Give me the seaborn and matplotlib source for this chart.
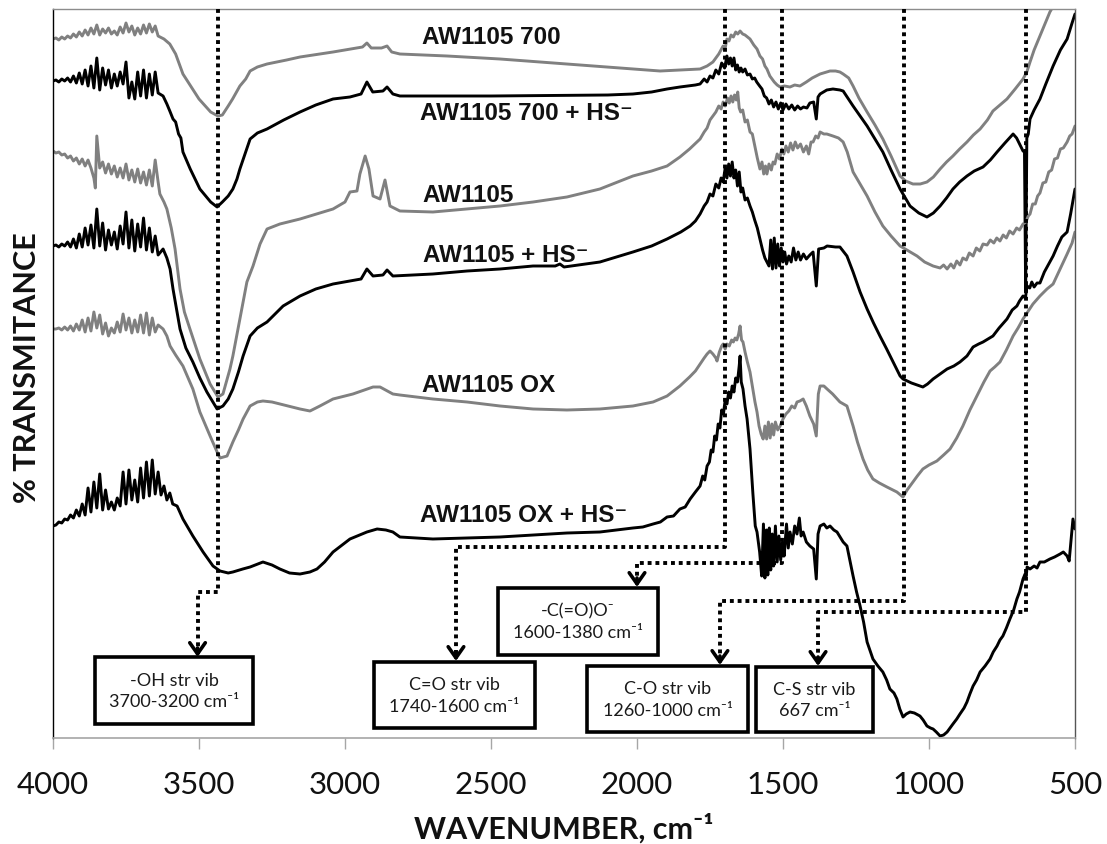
import matplotlib
matplotlib.use("Agg")
import matplotlib.pyplot as plt
import seaborn as sns
import pandas as pd
from matplotlib.patches import Rectangle

# ---------------- data (wavenumber cm-1, transmittance in arbitrary offset units) ----------------
AW1105_700 = [
    (4000, 69.9), (3990, 70.0), (3980, 69.8), (3970, 70.1), (3960, 69.9), (3950, 70.2), (3940, 70.0),
    (3930, 70.4), (3920, 70.1), (3910, 70.6), (3900, 70.2), (3890, 70.8), (3880, 70.3), (3870, 71.0),
    (3860, 70.4), (3850, 71.3), (3840, 70.3), (3830, 70.9), (3820, 70.5), (3810, 71.0), (3800, 70.4),
    (3790, 70.7), (3780, 70.3), (3770, 71.1), (3760, 70.5), (3750, 71.5), (3740, 70.6), (3730, 71.2),
    (3720, 70.3), (3710, 71.0), (3700, 70.4), (3690, 71.3), (3680, 70.5), (3670, 71.4), (3660, 70.6),
    (3650, 71.2), (3640, 70.2), (3620, 69.9), (3600, 69.4), (3580, 68.4), (3555, 66.4), (3500, 63.9),
    (3460, 62.6), (3435, 62.2), (3420, 62.3), (3400, 63.2), (3385, 63.9), (3360, 65.2), (3340, 65.9),
    (3325, 66.7), (3300, 67.1), (3267, 67.4), (3200, 67.8), (3154, 68.1), (3041, 68.6), (2960, 69.0),
    (2940, 69.1), (2925, 69.5), (2910, 69.0), (2875, 69.0), (2856, 69.2), (2840, 68.6), (2812, 68.4),
    (2650, 68.2), (2469, 67.9), (2240, 67.4), (2014, 66.9), (1921, 66.7), (1853, 66.8), (1784, 66.9),
    (1760, 67.2), (1740, 67.6), (1720, 68.4), (1705, 69.2), (1698, 69.0), (1692, 69.9), (1685, 69.7),
    (1678, 70.3), (1670, 70.1), (1662, 70.6), (1655, 70.4), (1647, 70.7), (1638, 70.4), (1630, 70.3),
    (1613, 69.9), (1600, 69.3), (1589, 68.9), (1579, 68.2), (1570, 67.9), (1562, 67.2), (1555, 66.9),
    (1545, 66.2), (1530, 65.6), (1520, 65.3), (1510, 65.1), (1495, 65.2), (1476, 65.1), (1460, 65.3),
    (1442, 65.2), (1420, 65.6), (1400, 66.0), (1373, 66.4), (1339, 66.7), (1320, 66.7), (1305, 66.6),
    (1294, 66.4), (1275, 66.0), (1260, 65.2), (1240, 64.0), (1212, 62.6), (1185, 61.3), (1158, 59.9),
    (1130, 58.2), (1099, 56.2), (1080, 55.7), (1055, 55.4), (1030, 55.4), (1007, 55.6), (985, 56.1),
    (962, 56.9), (940, 57.6), (918, 58.2), (895, 58.9), (870, 59.6), (848, 60.3), (825, 60.9),
    (800, 61.8), (781, 62.7), (757, 63.3), (733, 63.9), (705, 64.9), (678, 65.9), (665, 66.6),
    (654, 67.6), (640, 68.8), (620, 70.2), (600, 71.6), (586, 72.6), (570, 73.4),
]

AW1105_700_HS = [
    (4000, 65.7), (3990, 65.8), (3980, 65.6), (3970, 65.9), (3960, 65.7), (3950, 66.0), (3940, 65.6),
    (3930, 66.2), (3920, 65.5), (3910, 66.5), (3900, 65.4), (3890, 66.8), (3880, 65.2), (3870, 67.2),
    (3860, 65.0), (3850, 68.0), (3840, 64.8), (3830, 67.0), (3820, 65.3), (3810, 66.8), (3800, 65.0),
    (3790, 66.4), (3780, 65.2), (3770, 66.6), (3760, 65.4), (3750, 67.6), (3740, 64.0), (3730, 65.6),
    (3720, 63.9), (3710, 66.6), (3700, 64.2), (3690, 66.8), (3680, 64.0), (3670, 66.4), (3660, 64.3),
    (3650, 66.6), (3640, 64.5), (3623, 64.2), (3610, 63.4), (3600, 62.7), (3589, 61.9), (3580, 61.6),
    (3570, 60.4), (3562, 60.0), (3555, 58.6), (3530, 56.9), (3497, 54.9), (3460, 53.6), (3438, 53.1),
    (3420, 53.6), (3400, 54.2), (3384, 54.9), (3370, 55.9), (3360, 56.9), (3340, 58.6), (3325, 59.9),
    (3300, 60.5), (3267, 60.9), (3210, 61.8), (3154, 62.6), (3100, 63.3), (3041, 63.9), (2983, 64.1),
    (2945, 64.4), (2925, 65.6), (2905, 64.6), (2870, 64.7), (2856, 65.1), (2836, 64.4), (2812, 64.2),
    (2500, 64.2), (2100, 64.3), (2014, 64.4), (1950, 64.6), (1897, 64.9), (1853, 65.1), (1800, 65.3),
    (1784, 65.4), (1770, 65.9), (1760, 65.6), (1750, 66.2), (1740, 66.0), (1730, 66.8), (1720, 66.4),
    (1710, 67.5), (1700, 67.0), (1692, 68.2), (1686, 67.4), (1680, 68.0), (1674, 67.2), (1668, 68.0),
    (1662, 66.8), (1656, 67.3), (1650, 66.6), (1644, 67.0), (1638, 66.6), (1630, 66.9), (1622, 66.3),
    (1613, 66.4), (1605, 65.9), (1597, 66.0), (1590, 65.6), (1580, 65.2), (1572, 64.9), (1564, 64.2),
    (1556, 64.0), (1548, 63.4), (1540, 63.8), (1532, 63.1), (1524, 63.6), (1516, 62.9), (1508, 63.5),
    (1500, 62.8), (1490, 63.4), (1480, 62.9), (1470, 63.3), (1460, 62.8), (1450, 63.2), (1440, 62.9),
    (1430, 63.1), (1418, 63.0), (1408, 63.5), (1395, 63.6), (1386, 61.9), (1380, 64.1), (1373, 64.4),
    (1350, 64.8), (1329, 64.9), (1305, 64.8), (1294, 64.7), (1260, 63.2), (1236, 62.2), (1212, 61.2),
    (1185, 59.9), (1158, 58.6), (1130, 56.8), (1099, 54.9), (1065, 53.2), (1035, 52.5), (1007, 52.1),
    (985, 52.5), (962, 53.2), (940, 54.0), (918, 54.9), (895, 55.6), (870, 56.2), (845, 56.7),
    (815, 57.1), (790, 57.8), (767, 58.6), (740, 59.5), (712, 60.4), (700, 60.0), (690, 59.4),
    (678, 58.7), (673, 58.6), (669, 44.6), (665, 60.0), (660, 60.4), (654, 61.9), (640, 62.8),
    (620, 63.9), (600, 65.4), (575, 67.2), (550, 68.8), (527, 69.9), (510, 71.5), (500, 72.4),
]

AW1105 = [
    (4000, 58.7), (3990, 58.5), (3980, 58.6), (3970, 58.3), (3960, 58.4), (3950, 58.0), (3940, 58.2),
    (3930, 57.7), (3920, 58.0), (3910, 57.4), (3900, 57.9), (3890, 57.2), (3880, 57.8), (3870, 57.0),
    (3860, 56.0), (3855, 55.0), (3850, 60.2), (3840, 57.0), (3830, 57.6), (3820, 56.5), (3810, 57.4),
    (3800, 56.4), (3790, 57.2), (3780, 56.1), (3770, 57.0), (3760, 56.0), (3750, 57.4), (3740, 55.8),
    (3730, 56.8), (3720, 55.6), (3710, 56.9), (3700, 55.5), (3690, 56.6), (3680, 55.3), (3670, 56.8),
    (3660, 55.2), (3650, 57.8), (3640, 55.6), (3634, 54.4), (3620, 53.6), (3610, 52.9), (3595, 51.0),
    (3582, 48.9), (3565, 44.9), (3550, 42.6), (3531, 40.9), (3497, 37.9), (3462, 35.4), (3435, 34.1),
    (3418, 34.4), (3394, 36.9), (3384, 38.2), (3360, 41.9), (3336, 45.6), (3315, 47.2), (3291, 49.4),
    (3267, 50.9), (3223, 51.4), (3154, 51.9), (3041, 52.9), (3000, 53.6), (2983, 54.6), (2959, 54.7),
    (2949, 56.4), (2931, 58.2), (2918, 56.9), (2904, 54.2), (2880, 53.9), (2863, 55.8), (2846, 53.2),
    (2812, 52.7), (2699, 52.6), (2582, 52.9), (2469, 53.2), (2356, 53.6), (2240, 54.1), (2127, 54.9),
    (2014, 56.2), (1950, 56.7), (1897, 57.2), (1853, 58.1), (1820, 58.9), (1784, 59.9), (1770, 60.6),
    (1760, 61.0), (1750, 61.8), (1740, 62.2), (1730, 62.6), (1720, 63.2), (1712, 62.9), (1705, 63.6),
    (1698, 63.2), (1690, 64.0), (1684, 63.5), (1678, 64.2), (1672, 63.6), (1666, 64.3), (1660, 63.8),
    (1655, 64.6), (1650, 63.0), (1645, 62.6), (1638, 62.8), (1630, 61.6), (1622, 61.8), (1613, 60.6),
    (1605, 60.4), (1596, 59.1), (1588, 58.0), (1579, 56.9), (1572, 57.6), (1566, 56.4), (1560, 57.2),
    (1555, 56.4), (1548, 57.4), (1540, 56.8), (1534, 57.6), (1528, 57.4), (1520, 58.4), (1512, 57.9),
    (1504, 58.9), (1497, 58.4), (1490, 59.2), (1482, 58.6), (1474, 59.5), (1466, 58.8), (1458, 59.6),
    (1450, 59.0), (1440, 59.4), (1430, 58.6), (1420, 59.2), (1412, 58.4), (1404, 59.6), (1397, 59.6),
    (1388, 60.2), (1380, 60.0), (1373, 60.6), (1360, 60.4), (1350, 60.4), (1329, 60.2), (1310, 60.0),
    (1294, 59.6), (1280, 58.6), (1260, 56.6), (1236, 55.4), (1212, 54.2), (1185, 52.6), (1158, 51.2),
    (1130, 50.2), (1099, 49.2), (1070, 48.7), (1041, 48.2), (1015, 47.6), (986, 47.2), (962, 47.0),
    (950, 47.3), (938, 46.9), (925, 47.4), (915, 47.0), (905, 47.7), (894, 47.3), (884, 48.0),
    (872, 47.8), (862, 48.5), (849, 48.2), (838, 49.0), (826, 48.7), (815, 49.4), (801, 49.3),
    (790, 49.8), (778, 49.5), (768, 50.0), (757, 49.7), (746, 50.3), (735, 50.0), (724, 50.7),
    (712, 50.4), (700, 51.0), (690, 50.8), (678, 51.4), (668, 51.6), (660, 52.2), (654, 52.4),
    (645, 53.4), (636, 53.4), (628, 54.2), (620, 54.5), (610, 55.5), (600, 55.6), (590, 56.6),
    (580, 56.8), (570, 57.9), (560, 58.0), (550, 58.9), (540, 59.0), (527, 59.6), (518, 60.2),
    (510, 60.4), (500, 61.2),
]

AW1105_HS = [
    (4000, 49.2), (3990, 49.3), (3980, 49.1), (3970, 49.4), (3960, 49.2), (3950, 49.6), (3940, 49.1),
    (3930, 49.9), (3920, 49.0), (3910, 50.4), (3900, 49.1), (3890, 51.0), (3880, 49.3), (3870, 51.3),
    (3860, 49.0), (3850, 52.9), (3840, 49.2), (3830, 51.5), (3820, 48.8), (3810, 50.8), (3800, 49.3),
    (3790, 50.6), (3780, 48.9), (3770, 51.2), (3760, 49.4), (3750, 52.6), (3740, 49.0), (3730, 51.8),
    (3720, 48.7), (3710, 51.4), (3700, 49.1), (3690, 52.0), (3680, 48.8), (3670, 51.0), (3660, 48.6),
    (3650, 50.2), (3640, 48.3), (3623, 48.9), (3610, 48.0), (3599, 46.9), (3589, 44.9), (3565, 40.9),
    (3545, 39.0), (3521, 37.6), (3497, 36.0), (3473, 34.6), (3438, 32.9), (3418, 33.2), (3400, 33.9),
    (3384, 34.9), (3365, 36.6), (3349, 38.2), (3325, 40.2), (3300, 41.0), (3267, 41.6), (3212, 43.2),
    (3154, 44.2), (3100, 44.9), (3041, 45.4), (2983, 45.7), (2945, 45.9), (2925, 46.9), (2904, 46.2),
    (2870, 46.3), (2856, 46.8), (2836, 46.2), (2699, 46.4), (2582, 46.7), (2469, 46.9), (2356, 47.2),
    (2280, 47.2), (2264, 47.4), (2250, 47.1), (2127, 47.6), (2014, 48.6), (1950, 49.2), (1897, 49.9),
    (1850, 50.6), (1818, 51.2), (1800, 51.7), (1784, 52.4), (1770, 53.2), (1760, 53.6), (1750, 54.4),
    (1740, 54.2), (1730, 55.4), (1720, 55.0), (1712, 56.0), (1705, 55.6), (1698, 57.0), (1692, 56.0),
    (1686, 57.4), (1680, 56.2), (1674, 57.6), (1668, 56.0), (1662, 56.8), (1656, 55.2), (1650, 56.6),
    (1644, 54.6), (1638, 55.0), (1630, 53.8), (1622, 54.0), (1613, 53.2), (1605, 52.6), (1597, 51.8),
    (1588, 51.0), (1579, 49.9), (1570, 48.8), (1562, 48.0), (1555, 47.6), (1548, 47.2), (1542, 49.8),
    (1536, 46.9), (1530, 50.0), (1524, 47.0), (1518, 49.4), (1512, 47.2), (1506, 49.0), (1500, 47.6),
    (1494, 48.6), (1488, 47.4), (1480, 48.2), (1472, 47.6), (1464, 49.0), (1456, 47.8), (1448, 48.6),
    (1440, 47.8), (1430, 48.4), (1420, 47.9), (1408, 48.3), (1397, 48.6), (1386, 45.2), (1378, 48.9),
    (1360, 49.0), (1349, 49.2), (1320, 49.1), (1305, 49.1), (1281, 48.2), (1260, 46.6), (1236, 44.6),
    (1212, 42.9), (1190, 41.5), (1168, 40.2), (1145, 38.9), (1123, 37.6), (1099, 36.2), (1089, 35.9),
    (1060, 35.5), (1031, 35.2), (1021, 35.1), (1005, 35.4), (986, 35.9), (962, 36.4), (938, 36.9),
    (915, 37.2), (894, 37.6), (870, 38.2), (849, 39.1), (830, 39.4), (815, 39.6), (798, 39.9),
    (781, 40.2), (760, 41.0), (733, 41.9), (715, 42.8), (699, 43.2), (690, 43.7), (678, 44.2),
    (670, 44.0), (664, 45.2), (655, 45.0), (648, 45.6), (640, 45.1), (630, 45.5), (620, 45.5),
    (605, 46.6), (590, 47.4), (575, 48.2), (560, 49.2), (545, 50.1), (527, 50.6), (515, 52.4),
    (500, 54.9),
]

AW1105_OX = [
    (4000, 40.9), (3990, 40.9), (3980, 41.0), (3970, 40.8), (3960, 41.1), (3950, 40.8), (3940, 41.2),
    (3930, 40.7), (3920, 41.4), (3910, 40.8), (3900, 41.8), (3890, 40.6), (3880, 42.0), (3870, 40.7),
    (3860, 42.6), (3850, 41.0), (3840, 42.3), (3830, 40.4), (3820, 41.5), (3810, 40.2), (3800, 41.0),
    (3790, 40.5), (3780, 41.6), (3770, 40.6), (3760, 42.4), (3750, 40.8), (3740, 42.0), (3730, 40.5),
    (3720, 41.8), (3710, 40.6), (3700, 42.3), (3690, 40.5), (3680, 42.5), (3670, 40.3), (3660, 42.0),
    (3650, 40.6), (3640, 41.3), (3623, 40.9), (3610, 40.2), (3599, 39.2), (3580, 38.3), (3555, 37.2),
    (3521, 34.9), (3497, 32.6), (3462, 30.2), (3438, 28.6), (3428, 28.0), (3404, 28.2), (3384, 29.6),
    (3365, 30.8), (3349, 31.9), (3325, 33.2), (3300, 33.6), (3281, 33.7), (3250, 33.6), (3223, 33.4),
    (3154, 32.9), (3120, 32.7), (3086, 33.2), (3041, 33.9), (2973, 34.4), (2904, 35.1), (2880, 35.1),
    (2836, 34.4), (2812, 34.3), (2699, 33.9), (2582, 33.6), (2469, 33.2), (2356, 32.9), (2240, 32.8),
    (2127, 32.9), (2014, 33.2), (1945, 33.6), (1897, 34.2), (1853, 35.2), (1820, 36.1), (1800, 36.7),
    (1784, 37.4), (1770, 38.0), (1760, 38.4), (1750, 38.7), (1740, 38.4), (1730, 38.0), (1726, 37.7),
    (1718, 38.6), (1710, 39.2), (1705, 39.4), (1698, 38.9), (1692, 39.4), (1684, 39.2), (1676, 39.8),
    (1670, 39.6), (1664, 40.0), (1658, 39.8), (1652, 40.4), (1647, 41.2), (1642, 39.8), (1637, 39.6),
    (1630, 38.6), (1622, 37.6), (1613, 36.6), (1604, 35.0), (1596, 33.6), (1589, 32.6), (1582, 31.2),
    (1575, 30.4), (1568, 29.9), (1562, 31.2), (1556, 29.9), (1550, 31.6), (1544, 30.0), (1538, 31.4),
    (1532, 30.3), (1526, 31.6), (1518, 30.8), (1510, 31.2), (1500, 31.9), (1490, 32.4), (1480, 32.7),
    (1470, 33.2), (1460, 33.0), (1452, 33.6), (1442, 33.7), (1431, 33.9), (1420, 33.2), (1408, 32.2),
    (1395, 31.4), (1386, 30.2), (1379, 34.4), (1373, 35.2), (1360, 35.2), (1349, 34.9), (1330, 34.4),
    (1305, 33.6), (1281, 33.2), (1260, 31.2), (1245, 29.6), (1226, 27.9), (1210, 26.8), (1192, 25.9),
    (1170, 25.5), (1144, 25.1), (1110, 24.6), (1089, 24.1), (1075, 24.8), (1055, 25.6), (1040, 26.2),
    (1021, 26.9), (1000, 27.3), (973, 27.7), (950, 28.3), (928, 28.9), (905, 30.0), (884, 31.2),
    (860, 32.8), (836, 34.2), (812, 35.6), (791, 36.7), (775, 37.1), (757, 37.6), (735, 38.8),
    (712, 40.2), (695, 41.0), (678, 41.9), (660, 42.7), (644, 43.4), (620, 44.2), (596, 44.9),
    (575, 45.4), (551, 46.9), (527, 48.4), (510, 49.5), (500, 50.6),
]

AW1105_OX_HS = [
    (4000, 21.2), (3990, 21.3), (3980, 21.6), (3970, 21.5), (3960, 21.9), (3950, 21.8), (3940, 22.3),
    (3930, 22.0), (3920, 22.8), (3910, 22.2), (3900, 23.4), (3890, 22.3), (3880, 25.0), (3870, 22.6),
    (3860, 25.6), (3850, 23.0), (3840, 26.4), (3830, 22.8), (3820, 24.8), (3810, 22.9), (3800, 23.6),
    (3790, 22.8), (3780, 24.0), (3770, 23.2), (3760, 26.6), (3750, 23.4), (3740, 26.8), (3730, 23.8),
    (3720, 25.8), (3710, 23.6), (3700, 27.0), (3690, 24.0), (3680, 27.6), (3670, 24.2), (3660, 27.8),
    (3650, 24.4), (3640, 26.6), (3630, 24.3), (3620, 25.2), (3610, 23.8), (3600, 24.5), (3590, 23.4),
    (3575, 23.2), (3555, 21.9), (3521, 20.2), (3486, 18.6), (3452, 17.2), (3428, 16.7), (3400, 16.5),
    (3384, 16.6), (3350, 16.9), (3325, 17.1), (3281, 17.6), (3250, 17.3), (3223, 16.9), (3190, 16.5),
    (3154, 16.4), (3120, 16.6), (3096, 16.9), (3070, 17.6), (3041, 18.6), (3010, 19.3), (2983, 19.9),
    (2950, 20.3), (2925, 20.6), (2890, 20.9), (2860, 20.8), (2836, 20.6), (2812, 20.1), (2699, 19.9),
    (2582, 20.0), (2469, 20.1), (2356, 20.3), (2240, 20.5), (2127, 20.6), (2014, 21.0), (1980, 21.1),
    (1945, 21.4), (1920, 21.6), (1897, 22.1), (1875, 22.2), (1853, 22.9), (1835, 23.1), (1818, 23.9),
    (1800, 24.6), (1784, 25.2), (1775, 26.2), (1768, 25.8), (1760, 27.2), (1752, 27.6), (1746, 28.8),
    (1740, 28.6), (1734, 30.2), (1728, 29.8), (1722, 31.4), (1716, 31.0), (1710, 32.8), (1704, 32.4),
    (1698, 33.8), (1692, 33.4), (1686, 34.6), (1680, 34.0), (1674, 35.2), (1668, 34.6), (1662, 36.0),
    (1656, 35.6), (1650, 37.2), (1647, 38.2), (1643, 35.6), (1637, 34.9), (1630, 33.2), (1623, 31.9),
    (1613, 28.9), (1603, 24.4), (1595, 21.2), (1589, 20.6), (1580, 18.6), (1573, 16.2), (1567, 21.4),
    (1562, 16.0), (1557, 20.8), (1552, 16.3), (1547, 21.0), (1542, 16.8), (1537, 20.4), (1532, 17.2),
    (1526, 21.2), (1520, 17.6), (1514, 20.2), (1508, 17.8), (1502, 19.6), (1496, 18.2), (1488, 21.4),
    (1482, 19.0), (1476, 20.6), (1468, 19.4), (1460, 21.2), (1452, 20.4), (1444, 22.0), (1438, 20.2),
    (1431, 20.6), (1420, 19.6), (1408, 19.2), (1395, 18.9), (1386, 15.9), (1380, 20.4), (1373, 21.2),
    (1360, 21.4), (1350, 21.0), (1339, 21.2), (1326, 20.8), (1315, 20.6), (1294, 19.6), (1281, 19.2),
    (1260, 16.2), (1248, 14.6), (1236, 13.2), (1224, 11.6), (1212, 9.6), (1192, 7.9), (1175, 7.2),
    (1158, 6.6), (1145, 5.8), (1134, 4.9), (1120, 4.5), (1110, 3.9), (1100, 2.9), (1089, 2.1),
    (1078, 2.4), (1065, 2.6), (1050, 2.5), (1031, 2.2), (1020, 1.8), (1007, 1.2), (995, 1.0),
    (986, 0.9), (975, 0.6), (962, 0.2), (950, 0.3), (938, 0.6), (928, 1.0), (918, 1.4), (905, 1.9),
    (894, 2.4), (880, 3.0), (870, 3.6), (860, 4.4), (849, 5.2), (837, 5.8), (825, 6.6), (808, 7.2),
    (791, 7.9), (780, 8.6), (767, 9.2), (757, 9.8), (747, 10.2), (735, 11.0), (723, 11.9), (710, 12.8),
    (699, 13.9), (690, 14.6), (678, 15.9), (671, 16.4), (667, 16.2), (664, 17.1), (654, 16.9),
    (640, 17.2), (630, 17.0), (620, 17.6), (605, 17.6), (586, 17.9), (570, 18.1), (551, 18.4),
    (540, 18.6), (527, 18.2), (520, 17.7), (514, 19.6), (507, 21.9), (500, 20.9),
]

SERIES_NAMES = ["AW1105 700", "AW1105 700 + HS⁻", "AW1105", "AW1105 + HS⁻", "AW1105 OX", "AW1105 OX + HS⁻"]
SERIES_DATA = [AW1105_700, AW1105_700_HS, AW1105, AW1105_HS, AW1105_OX, AW1105_OX_HS]
SERIES_COLORS = ["#808080", "#000000", "#808080", "#000000", "#808080", "#000000"]
# label anchor (wavenumber, transmittance)
LABEL_POS = [(2736, 70.2), (2743, 62.6), (2736, 54.4), (2733, 48.4), (2736, 35.3), (2743, 22.4)]

X_TICKS = [4000, 3500, 3000, 2500, 2000, 1500, 1000, 500]

# band annotations: text, band line, elbow level, arrow position, arrow tip, box (left, right, bottom, top)
BANDS = [
    dict(text="-OH str vib\n3700-3200 cm⁻¹", band=3435, elbow=14.6, arrow=3505, tip=8.1,
         box=(3856, 3315, 1.4, 8.1)),
    dict(text="C=O str vib\n1740-1600 cm⁻¹", band=1700, elbow=19.1, arrow=2620, tip=7.7,
         box=(2901, 2349, 1.0, 7.6)),
    dict(text="-C(=O)O⁻\n1600-1380 cm⁻¹", band=1505, elbow=17.5, arrow=2000, tip=15.1,
         box=(2476, 1928, 8.3, 15.0)),
    dict(text="C-O str vib\n1260-1000 cm⁻¹", band=1085, elbow=13.7, arrow=1716, tip=7.3,
         box=(2171, 1620, 0.6, 7.2)),
    dict(text="C-S str vib\n667 cm⁻¹", band=667, elbow=12.6, arrow=1380, tip=7.2,
         box=(1592, 1192, 0.6, 7.1)),
]

# ---------------- drawing ----------------
sns.set_style("white")
plt.rcParams["font.family"] = ["Lato", "DejaVu Sans"]

W, H = 1107, 845
fig = plt.figure(figsize=(W / 100, H / 100), dpi=100)
ax = fig.add_axes([53 / W, 106 / H, 1022 / W, 729 / H])

YTOP = 72.9
for data, color in zip(SERIES_DATA, SERIES_COLORS):
    df = pd.DataFrame(data, columns=["wavenumber", "T"])
    sns.lineplot(data=df, x="wavenumber", y="T", ax=ax, color=color, linewidth=2.1,
                 estimator=None, errorbar=None, sort=False, zorder=2)

for name, (lx, ly) in zip(SERIES_NAMES, LABEL_POS):
    ax.text(lx, ly, name, ha="left", va="center", fontsize=17.5, fontweight="bold",
            family=["Liberation Sans", "DejaVu Sans"], color="#111111", zorder=6)

for b in BANDS:
    ax.plot([b["band"], b["band"], b["arrow"], b["arrow"]],
            [YTOP, b["elbow"], b["elbow"], b["tip"] + 0.3],
            color="black", lw=2.8, linestyle=(0, (1, 1)), dash_capstyle="butt",
            solid_capstyle="butt", zorder=3, clip_on=False)
    ax.annotate("", xy=(b["arrow"], b["tip"]), xytext=(b["arrow"], b["tip"] + 0.9),
                arrowprops=dict(arrowstyle="->,head_length=0.4,head_width=0.28", lw=2.6,
                                color="black", shrinkA=0, shrinkB=0, mutation_scale=20),
                zorder=4)
    l, r, bt, tp = b["box"]
    ax.add_patch(Rectangle((l, bt), r - l, tp - bt, facecolor="white", edgecolor="black",
                           lw=2.6, zorder=5))
    ax.text((l + r) / 2, (bt + tp) / 2, b["text"], ha="center", va="center", fontsize=13,
            linespacing=1.45, color="#1a1a1a", family=["Lato", "DejaVu Sans"], zorder=6)

ax.set_xlim(4000, 500)
ax.set_ylim(0, YTOP)
ax.set_xticks(X_TICKS)
ax.set_xticklabels([str(t) for t in X_TICKS])
ax.set_yticks([])
ax.set_xlabel("")
ax.set_ylabel("")
ax.tick_params(axis="x", direction="out", length=8, width=1.0, color="#a6a6a6",
               labelsize=22.5, labelcolor="#111111", pad=15, bottom=True)
for lab in ax.get_xticklabels():
    lab.set_family(["Lato", "DejaVu Sans"])

ax.spines["left"].set_color("black")
ax.spines["left"].set_linewidth(1.0)
ax.spines["bottom"].set_color("#a6a6a6")
ax.spines["bottom"].set_linewidth(1.2)
ax.spines["top"].set_color("#8c8c8c")
ax.spines["top"].set_linewidth(1.0)
ax.spines["right"].set_color("#555555")
ax.spines["right"].set_linewidth(1.0)
for s in ax.spines.values():
    s.set_visible(True)

fig.text(564 / W, (H - 839) / H, "WAVENUMBER, cm⁻¹", ha="center", va="baseline",
         fontsize=22, fontweight="bold", family=["Lato", "DejaVu Sans"], color="#111111")
fig.text(27 / W, (H - 368) / H, "% TRANSMITANCE", ha="center", va="center", rotation=90,
         fontsize=22, fontweight="bold", family=["Lato", "DejaVu Sans"], color="#111111")

fig.savefig("out.png", dpi=100)
